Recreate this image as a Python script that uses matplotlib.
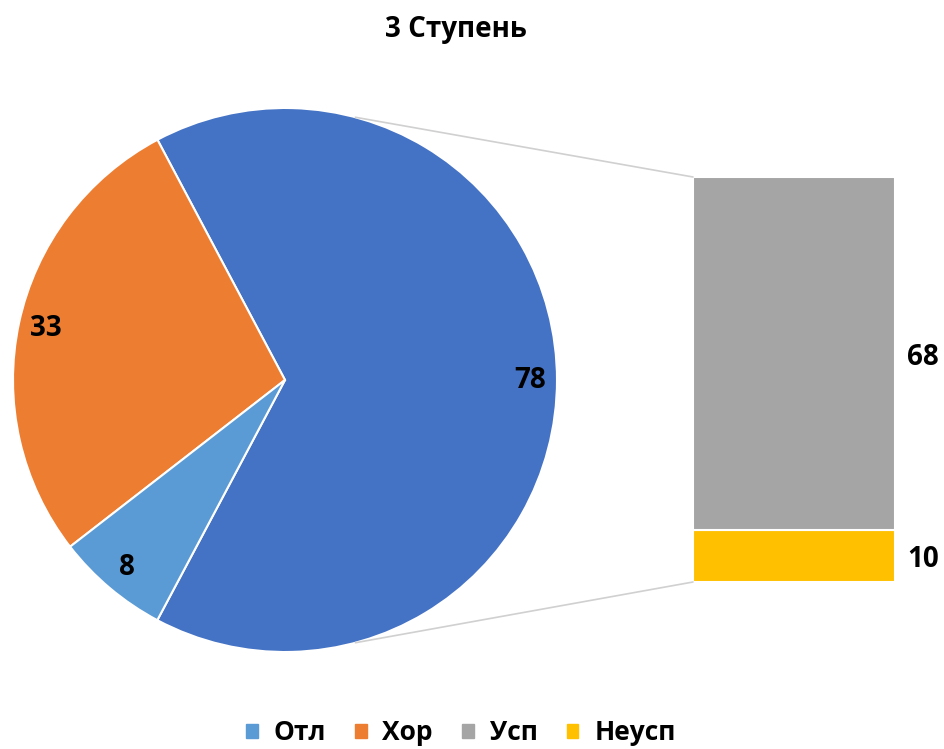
"""
Bar-of-pie chart: 3 Ступень.
"""

import numpy as np
import matplotlib.pyplot as plt
from matplotlib.patches import ConnectionPatch, Patch

# Data
# ----------------------------------------------------------------------------

pie_labels = ['Другие', 'Хор', 'Отл']
pie_values = [78, 33, 8]

bar_labels = ['Неусп', 'Усп']
bar_values = [10, 68]

legend_labels = ['Отл', 'Хор', 'Усп', 'Неусп']

title = '3 Ступень'

# Style
# ----------------------------------------------------------------------------

c_blue = '#4472C4'
c_orange = '#ED7D31'
c_lblue = '#5B9BD5'
c_gray = '#A5A5A5'
c_yellow = '#FFC000'

plt.rcParams['font.family'] = ['Open Sans', 'DejaVu Sans']
plt.rcParams['font.weight'] = 'bold'

W, H = 944, 749
fig = plt.figure(figsize=(W / 100, H / 100), dpi=100)


def px_axes(x0, y0, x1, y1):
    # axes from pixel box (top-left origin)
    return fig.add_axes([x0 / W, 1 - y1 / H, (x1 - x0) / W, (y1 - y0) / H])


# Pie
# ----------------------------------------------------------------------------

ax_pie = px_axes(13, 108, 557, 652)
wedges, _ = ax_pie.pie(pie_values, colors=[c_blue, c_orange, c_lblue],
                       startangle=-118, counterclock=True, radius=1,
                       wedgeprops=dict(edgecolor='white', linewidth=1.5))
ax_pie.set_xlim(-1, 1)
ax_pie.set_ylim(-1, 1)
ax_pie.set_aspect('equal')
ax_pie.axis('off')

for w, v in zip(wedges, pie_values):
    ang = np.deg2rad((w.theta1 + w.theta2) / 2)
    ax_pie.text(0.9 * np.cos(ang), 0.9 * np.sin(ang), str(v), ha='center',
                va='center', fontsize=20, fontweight='bold')

# Bar
# ----------------------------------------------------------------------------

ax_bar = px_axes(693, 177, 895, 582)
bottom = 0
for v, c in zip(bar_values, [c_yellow, c_gray]):
    ax_bar.bar(0, v, bottom=bottom, width=1, color=c, edgecolor='white',
               linewidth=1.5)
    ax_bar.text(0.56, bottom + v / 2, str(v), ha='left', va='center_baseline',
                fontsize=20, fontweight='bold')
    bottom += v
ax_bar.set_xlim(-0.5, 0.5)
ax_bar.set_ylim(0, sum(bar_values))
ax_bar.axis('off')

# Connector lines
ang = np.deg2rad(75)
for sy, by in [(1, sum(bar_values)), (-1, 0)]:
    con = ConnectionPatch(xyA=(np.cos(ang), sy * np.sin(ang)), coordsA=ax_pie.transData,
                          xyB=(-0.5, by), coordsB=ax_bar.transData,
                          color='#d0d0d0', linewidth=1.2)
    fig.add_artist(con)

# Title and legend
# ----------------------------------------------------------------------------

fig.text(0.483, 1 - 30 / H, title, ha='center', va='center', fontsize=20,
         fontweight='bold')

handles = [Patch(color=c) for c in [c_lblue, c_orange, c_gray, c_yellow]]
fig.legend(handles, legend_labels, loc='center', bbox_to_anchor=(0.488, 1 - 733 / H),
           ncol=4, frameon=False, fontsize=19, handlelength=0.45, handleheight=0.45,
           handletextpad=0.6, columnspacing=1.1)

fig.savefig('out.png', dpi=100)
